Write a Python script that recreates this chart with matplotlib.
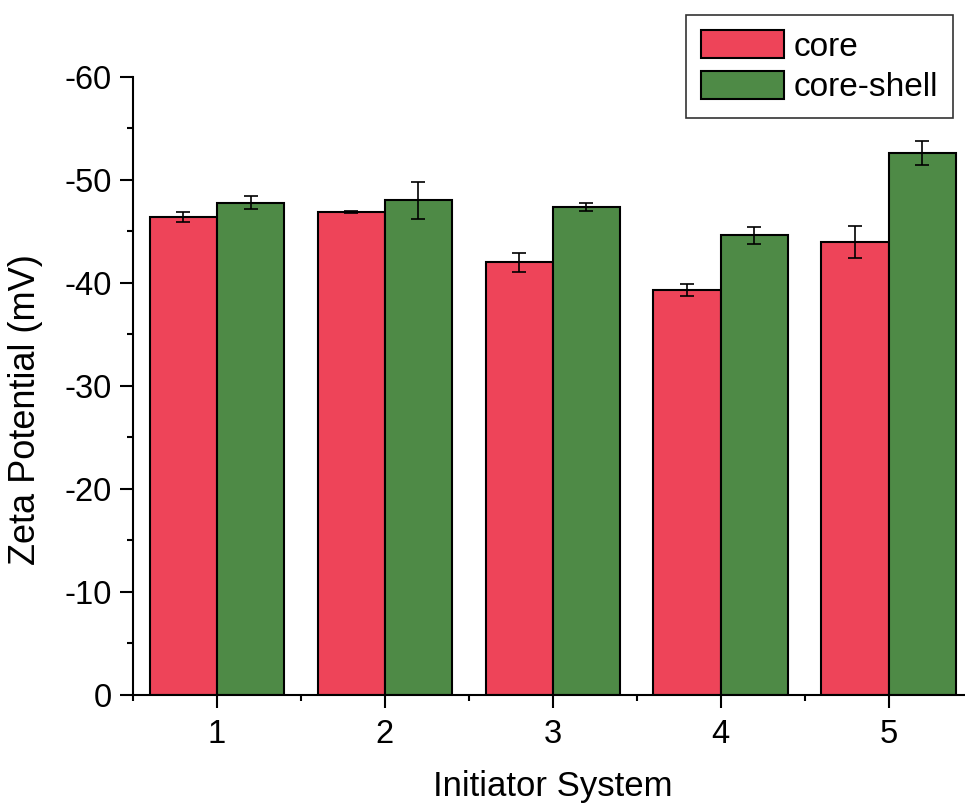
import numpy as np
import matplotlib.pyplot as plt
from matplotlib.ticker import MultipleLocator

plt.rcParams['font.family'] = ['Liberation Sans', 'DejaVu Sans']
plt.rcParams['axes.unicode_minus'] = False

# Zeta potential of core and core-shell particles per initiator system
systems = [1, 2, 3, 4, 5]
core = [-46.4, -46.9, -42.0, -39.3, -44.0]
core_err = [0.5, 0.1, 0.9, 0.6, 1.55]
core_shell = [-47.8, -48.0, -47.4, -44.6, -52.6]
core_shell_err = [0.6, 1.8, 0.4, 0.8, 1.15]

red = '#EE4459'
green = '#4E8A46'

fig = plt.figure(figsize=(9.65, 8.08), dpi=100)
ax = fig.add_axes([0.1378, 0.1399, 0.870, 0.765])

x = np.array(systems)
w = 0.4
err_kw = dict(ecolor='black', elinewidth=1.2, capsize=4.8, capthick=1.2)
ax.bar(x - w / 2, core, w, yerr=core_err, color=red, edgecolor='black',
       linewidth=1.5, label='core', error_kw=err_kw)
ax.bar(x + w / 2, core_shell, w, yerr=core_shell_err, color=green, edgecolor='black',
       linewidth=1.5, label='core-shell', error_kw=err_kw)

ax.set_xlim(0.5, 5.5)
ax.set_ylim(0, -60)
ax.set_xticks(systems)
ax.xaxis.set_minor_locator(MultipleLocator(0.5))
ax.yaxis.set_major_locator(MultipleLocator(10))
ax.yaxis.set_minor_locator(MultipleLocator(5))
ax.tick_params(which='major', direction='out', length=9.5, width=1.5, labelsize=23.5)
ax.tick_params(which='minor', direction='out', length=4.5, width=1.5)
ax.tick_params(axis='x', which='major', pad=8)
ax.tick_params(axis='y', which='major', pad=6)

for side in ['top', 'right']:
    ax.spines[side].set_visible(False)
for side in ['left', 'bottom']:
    ax.spines[side].set_linewidth(1.5)

ax.set_xlabel('Initiator System', fontsize=25)
ax.set_ylabel('Zeta Potential (mV)', fontsize=26)
ax.xaxis.set_label_coords(0.5, -0.122)
ax.yaxis.set_label_coords(-0.107, 0.461)

leg = fig.legend(loc='upper right', bbox_to_anchor=(0.988, 0.981), fontsize=24,
                 handlelength=2.5, handleheight=0.9, frameon=True, fancybox=False,
                 borderpad=0.45, labelspacing=0.25, handletextpad=0.3, borderaxespad=0)
leg.get_frame().set_edgecolor('black')
leg.get_frame().set_linewidth(1.2)

fig.savefig('out.png', dpi=100)
